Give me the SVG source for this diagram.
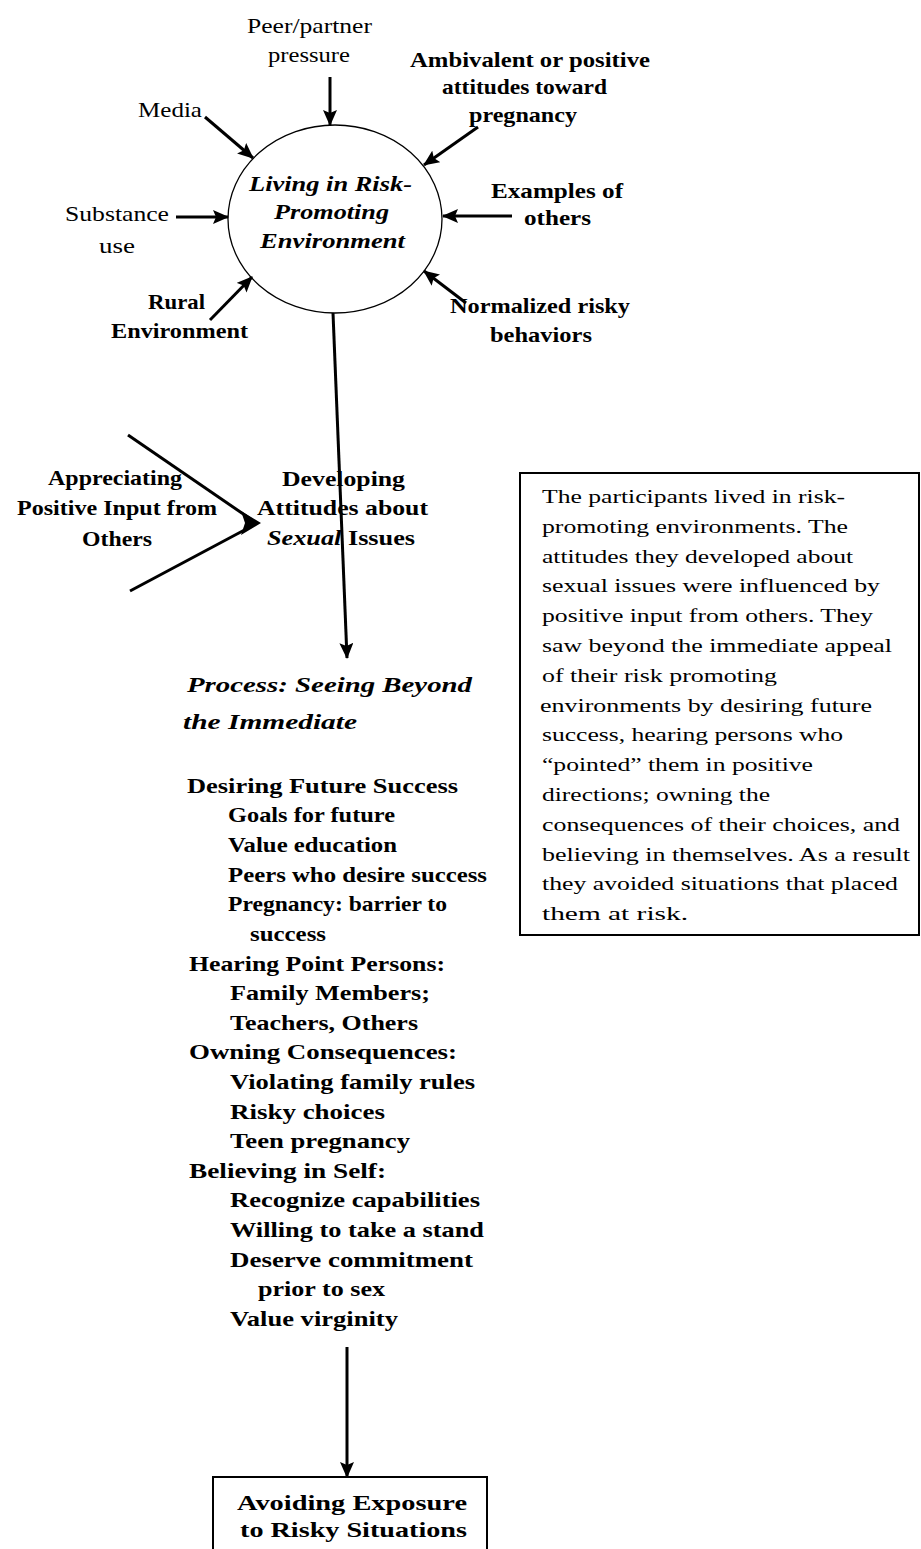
<svg xmlns="http://www.w3.org/2000/svg" width="921" height="1549" viewBox="0 0 921 1549">
<style>
text{font-family:"Liberation Serif","Times New Roman",serif;fill:#000}
.r{font-size:21px}
.b{font-size:22px;font-weight:bold}
.bi{font-size:22px;font-weight:bold;font-style:italic}
.t{font-size:19px}
.ln{stroke:#000;stroke-width:3;fill:none}
</style>
<defs>
<marker id="ah" viewBox="0 0 16 14" refX="15" refY="7" markerWidth="16" markerHeight="14" markerUnits="userSpaceOnUse" orient="auto">
<path d="M0,0 L16,7 L0,14 L3,7 z" fill="#000"/>
</marker>
</defs>
<g id="connectors">
<line class="ln" x1="330" y1="77" x2="330" y2="125" marker-end="url(#ah)"/>
<line class="ln" x1="205" y1="117" x2="253" y2="158" marker-end="url(#ah)"/>
<line class="ln" x1="478" y1="127" x2="424" y2="165" marker-end="url(#ah)"/>
<line class="ln" x1="176" y1="217" x2="228" y2="217" marker-end="url(#ah)"/>
<line class="ln" x1="512" y1="216" x2="443" y2="216" marker-end="url(#ah)"/>
<line class="ln" x1="210" y1="320" x2="252" y2="277" marker-end="url(#ah)"/>
<line class="ln" x1="466" y1="303" x2="424" y2="271" marker-end="url(#ah)"/>
<line class="ln" x1="333" y1="313" x2="347" y2="658" marker-end="url(#ah)"/>
<line class="ln" x1="128" y1="435" x2="252" y2="520"/>
<line class="ln" x1="130" y1="591" x2="252" y2="526"/>
<path d="M241,511 L261,523 L241,535 L245,523 z" fill="#000"/>
<line class="ln" x1="347" y1="1347" x2="347" y2="1477" marker-end="url(#ah)"/>
</g>
<g id="n-peer"><text class="r" x="247" y="33" textLength="125" lengthAdjust="spacingAndGlyphs">Peer/partner</text><text class="r" x="268" y="62" textLength="82" lengthAdjust="spacingAndGlyphs">pressure</text></g>
<g id="n-ambivalent"><text class="b" x="410" y="67" textLength="240" lengthAdjust="spacingAndGlyphs">Ambivalent or positive</text><text class="b" x="442" y="94" textLength="165" lengthAdjust="spacingAndGlyphs">attitudes toward</text><text class="b" x="469" y="122" textLength="108" lengthAdjust="spacingAndGlyphs">pregnancy</text></g>
<g id="n-media"><text class="r" x="138" y="117" textLength="64" lengthAdjust="spacingAndGlyphs">Media</text></g>
<g id="n-substance"><text class="r" x="65" y="221" textLength="104" lengthAdjust="spacingAndGlyphs">Substance</text><text class="r" x="99" y="253" textLength="36" lengthAdjust="spacingAndGlyphs">use</text></g>
<g id="n-examples"><text class="b" x="491" y="198" textLength="132" lengthAdjust="spacingAndGlyphs">Examples of</text><text class="b" x="524" y="225" textLength="67" lengthAdjust="spacingAndGlyphs">others</text></g>
<g id="n-rural"><text class="b" x="148" y="309" textLength="57" lengthAdjust="spacingAndGlyphs">Rural</text><text class="b" x="111" y="338" textLength="137" lengthAdjust="spacingAndGlyphs">Environment</text></g>
<g id="n-normalized"><text class="b" x="450" y="313" textLength="180" lengthAdjust="spacingAndGlyphs">Normalized risky</text><text class="b" x="490" y="342" textLength="102" lengthAdjust="spacingAndGlyphs">behaviors</text></g>
<g id="n-living">
<ellipse cx="335" cy="219" rx="107" ry="94" fill="none" stroke="#000" stroke-width="1.3"/>
<text class="bi" x="249" y="191" textLength="163" lengthAdjust="spacingAndGlyphs">Living in Risk-</text>
<text class="bi" x="274" y="219" textLength="115" lengthAdjust="spacingAndGlyphs">Promoting</text>
<text class="bi" x="260" y="248" textLength="145" lengthAdjust="spacingAndGlyphs">Environment</text>
</g>
<g id="n-appreciating"><text class="b" x="48" y="485" textLength="134" lengthAdjust="spacingAndGlyphs">Appreciating</text><text class="b" x="17" y="515" textLength="200" lengthAdjust="spacingAndGlyphs">Positive Input from</text><text class="b" x="82" y="546" textLength="70" lengthAdjust="spacingAndGlyphs">Others</text></g>
<g id="n-developing"><text class="b" x="282" y="486" textLength="123" lengthAdjust="spacingAndGlyphs">Developing</text><text class="b" x="257" y="515" textLength="171" lengthAdjust="spacingAndGlyphs">Attitudes about</text><text class="b" x="267" y="545" textLength="148" lengthAdjust="spacingAndGlyphs"><tspan font-style="italic">Sexual</tspan> Issues</text></g>
<g id="n-summary">
<rect x="520" y="473" width="399" height="462" fill="none" stroke="#000" stroke-width="2"/>
<text class="t" x="542" y="503" textLength="303" lengthAdjust="spacingAndGlyphs">The participants lived in risk-</text>
<text class="t" x="542" y="533" textLength="306" lengthAdjust="spacingAndGlyphs">promoting environments. The</text>
<text class="t" x="542" y="563" textLength="311" lengthAdjust="spacingAndGlyphs">attitudes they developed about</text>
<text class="t" x="542" y="592" textLength="338" lengthAdjust="spacingAndGlyphs">sexual issues were influenced by</text>
<text class="t" x="542" y="622" textLength="331" lengthAdjust="spacingAndGlyphs">positive input from others. They</text>
<text class="t" x="542" y="652" textLength="350" lengthAdjust="spacingAndGlyphs">saw beyond the immediate appeal</text>
<text class="t" x="542" y="682" textLength="235" lengthAdjust="spacingAndGlyphs">of their risk promoting</text>
<text class="t" x="540" y="712" textLength="332" lengthAdjust="spacingAndGlyphs">environments by desiring future</text>
<text class="t" x="542" y="741" textLength="301" lengthAdjust="spacingAndGlyphs">success, hearing persons who</text>
<text class="t" x="542" y="771" textLength="271" lengthAdjust="spacingAndGlyphs">“pointed” them in positive</text>
<text class="t" x="542" y="801" textLength="228" lengthAdjust="spacingAndGlyphs">directions; owning the</text>
<text class="t" x="542" y="831" textLength="358" lengthAdjust="spacingAndGlyphs">consequences of their choices, and</text>
<text class="t" x="542" y="861" textLength="368" lengthAdjust="spacingAndGlyphs">believing in themselves. As a result</text>
<text class="t" x="542" y="890" textLength="356" lengthAdjust="spacingAndGlyphs">they avoided situations that placed</text>
<text class="t" x="542" y="920" textLength="146" lengthAdjust="spacingAndGlyphs">them at risk.</text>
</g>
<g id="n-process">
<text class="bi" x="187" y="692" textLength="285" lengthAdjust="spacingAndGlyphs">Process:  Seeing Beyond</text>
<text class="bi" x="183" y="729" textLength="174" lengthAdjust="spacingAndGlyphs">the Immediate</text>
<text class="b" x="187" y="793" textLength="271" lengthAdjust="spacingAndGlyphs">Desiring Future Success</text>
<text class="b" x="228" y="822" textLength="167" lengthAdjust="spacingAndGlyphs">Goals for future</text>
<text class="b" x="228" y="852" textLength="169" lengthAdjust="spacingAndGlyphs">Value education</text>
<text class="b" x="228" y="882" textLength="259" lengthAdjust="spacingAndGlyphs">Peers who desire success</text>
<text class="b" x="228" y="911" textLength="219" lengthAdjust="spacingAndGlyphs">Pregnancy:  barrier to</text>
<text class="b" x="250" y="941" textLength="76" lengthAdjust="spacingAndGlyphs">success</text>
<text class="b" x="189" y="971" textLength="256" lengthAdjust="spacingAndGlyphs">Hearing Point Persons:</text>
<text class="b" x="230" y="1000" textLength="200" lengthAdjust="spacingAndGlyphs">Family Members;</text>
<text class="b" x="230" y="1030" textLength="188" lengthAdjust="spacingAndGlyphs">Teachers, Others</text>
<text class="b" x="189" y="1059" textLength="268" lengthAdjust="spacingAndGlyphs">Owning  Consequences:</text>
<text class="b" x="230" y="1089" textLength="245" lengthAdjust="spacingAndGlyphs">Violating family rules</text>
<text class="b" x="230" y="1119" textLength="155" lengthAdjust="spacingAndGlyphs">Risky choices</text>
<text class="b" x="230" y="1148" textLength="180" lengthAdjust="spacingAndGlyphs">Teen pregnancy</text>
<text class="b" x="189" y="1178" textLength="197" lengthAdjust="spacingAndGlyphs">Believing in Self:</text>
<text class="b" x="230" y="1207" textLength="250" lengthAdjust="spacingAndGlyphs">Recognize capabilities</text>
<text class="b" x="230" y="1237" textLength="254" lengthAdjust="spacingAndGlyphs">Willing to take a stand</text>
<text class="b" x="230" y="1267" textLength="243" lengthAdjust="spacingAndGlyphs">Deserve  commitment</text>
<text class="b" x="258" y="1296" textLength="127" lengthAdjust="spacingAndGlyphs">prior to sex</text>
<text class="b" x="230" y="1326" textLength="168" lengthAdjust="spacingAndGlyphs">Value virginity</text>
</g>
<g id="n-avoiding">
<rect x="213" y="1477" width="274" height="90" fill="none" stroke="#000" stroke-width="2"/>
<text class="b" x="237" y="1510" textLength="230" lengthAdjust="spacingAndGlyphs">Avoiding Exposure</text>
<text class="b" x="240" y="1537" textLength="227" lengthAdjust="spacingAndGlyphs">to Risky Situations</text>
</g>
</svg>
